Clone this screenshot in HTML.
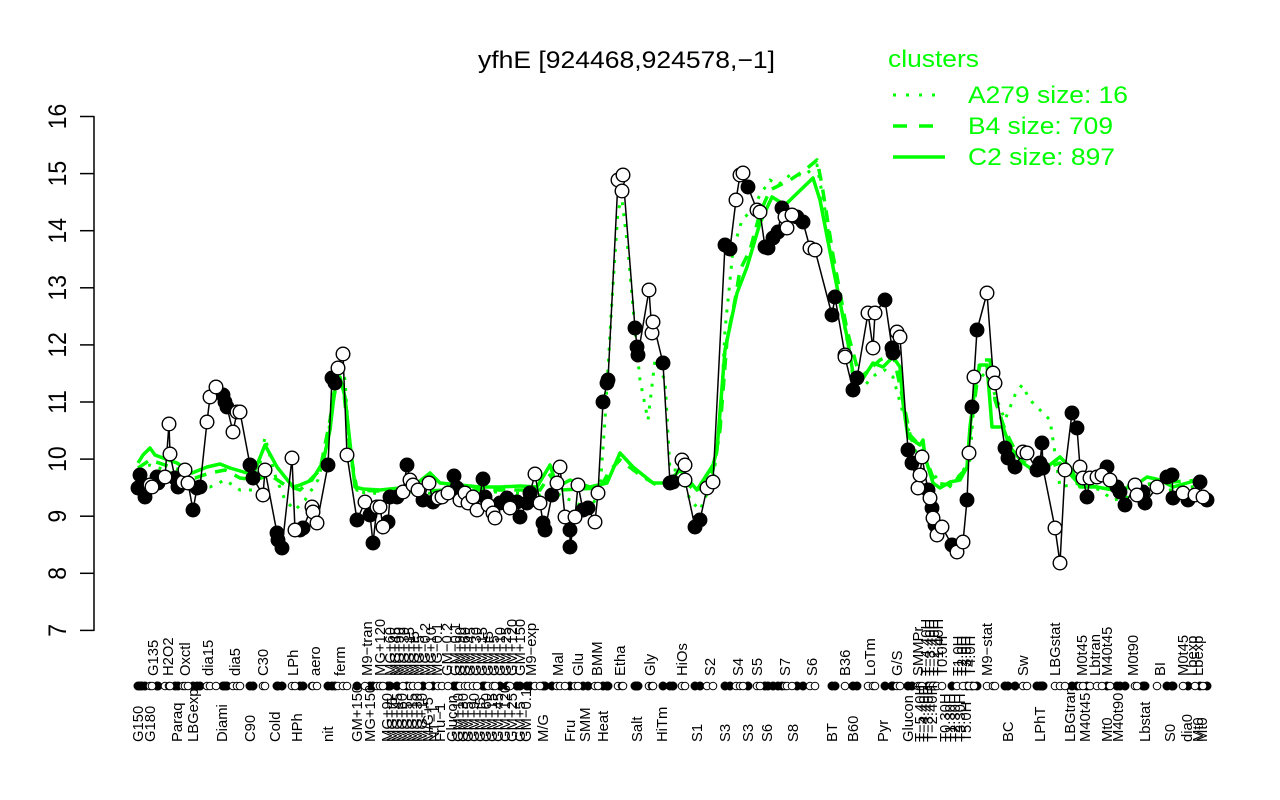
<!DOCTYPE html>
<html>
<head>
<meta charset="utf-8">
<style>
html,body{margin:0;padding:0;background:#fff;}
svg{display:block;}
.lab{font-family:"Liberation Sans",sans-serif;font-size:14.8px;fill:#000;}
.ax{font-family:"Liberation Sans",sans-serif;font-size:23px;fill:#000;}
.lg{font-family:"Liberation Sans",sans-serif;font-size:24px;fill:#00ff00;}
</style>
</head>
<body>
<svg width="1280" height="800" viewBox="0 0 1280 800" xmlns="http://www.w3.org/2000/svg">
<defs>
<marker id="mf" markerUnits="userSpaceOnUse" markerWidth="18" markerHeight="18" refX="9" refY="9" overflow="visible"><circle cx="9" cy="9" r="6.8" fill="#000" stroke="#000" stroke-width="1.3"/></marker>
<marker id="mo" markerUnits="userSpaceOnUse" markerWidth="18" markerHeight="18" refX="9" refY="9" overflow="visible"><circle cx="9" cy="9" r="6.8" fill="#fff" stroke="#000" stroke-width="1.4"/></marker>
<marker id="sf" markerUnits="userSpaceOnUse" markerWidth="10" markerHeight="10" refX="5" refY="5" overflow="visible"><circle cx="5" cy="5" r="4" fill="#000" stroke="#000" stroke-width="1"/></marker>
<marker id="so" markerUnits="userSpaceOnUse" markerWidth="10" markerHeight="10" refX="5" refY="5" overflow="visible"><circle cx="5" cy="5" r="3.8" fill="#fff" stroke="#000" stroke-width="1"/></marker>
</defs>

<!-- title -->
<text x="478" y="68" font-family="Liberation Sans, sans-serif" font-size="24" textLength="297" lengthAdjust="spacingAndGlyphs" fill="#000">yfhE [924468,924578,−1]</text>

<!-- legend -->
<text class="lg" x="888" y="67" textLength="91" lengthAdjust="spacingAndGlyphs">clusters</text>
<line x1="893" y1="95" x2="940" y2="95" stroke="#00ff00" stroke-width="3" stroke-dasharray="3,10"/>
<text class="lg" x="968" y="103" textLength="160" lengthAdjust="spacingAndGlyphs">A279 size: 16</text>
<line x1="893" y1="126" x2="940" y2="126" stroke="#00ff00" stroke-width="3.5" stroke-dasharray="14,12"/>
<text class="lg" x="968" y="134" textLength="145" lengthAdjust="spacingAndGlyphs">B4 size: 709</text>
<line x1="893" y1="157" x2="945" y2="157" stroke="#00ff00" stroke-width="3.5"/>
<text class="lg" x="968" y="165" textLength="147" lengthAdjust="spacingAndGlyphs">C2 size: 897</text>

<!-- y axis -->
<g stroke="#000" stroke-width="1.5" fill="none">
<line x1="94" y1="116" x2="94" y2="631"/>
<line x1="80" y1="116.5" x2="94" y2="116.5"/>
<line x1="80" y1="173.6" x2="94" y2="173.6"/>
<line x1="80" y1="230.7" x2="94" y2="230.7"/>
<line x1="80" y1="287.8" x2="94" y2="287.8"/>
<line x1="80" y1="344.9" x2="94" y2="344.9"/>
<line x1="80" y1="402" x2="94" y2="402"/>
<line x1="80" y1="459.1" x2="94" y2="459.1"/>
<line x1="80" y1="516.2" x2="94" y2="516.2"/>
<line x1="80" y1="573.3" x2="94" y2="573.3"/>
<line x1="80" y1="630.4" x2="94" y2="630.4"/>
</g>
<g class="ax" text-anchor="middle">
<text transform="translate(66,116.5) scale(1.1,1) rotate(-90)">16</text>
<text transform="translate(66,173.6) scale(1.1,1) rotate(-90)">15</text>
<text transform="translate(66,230.7) scale(1.1,1) rotate(-90)">14</text>
<text transform="translate(66,287.8) scale(1.1,1) rotate(-90)">13</text>
<text transform="translate(66,344.9) scale(1.1,1) rotate(-90)">12</text>
<text transform="translate(66,402) scale(1.1,1) rotate(-90)">11</text>
<text transform="translate(66,459.1) scale(1.1,1) rotate(-90)">10</text>
<text transform="translate(66,516.2) scale(1.1,1) rotate(-90)">9</text>
<text transform="translate(66,573.3) scale(1.1,1) rotate(-90)">8</text>
<text transform="translate(66,630.4) scale(1.1,1) rotate(-90)">7</text>
</g>

<!-- green cluster lines -->
<g fill="none" stroke="#00ff00" stroke-linejoin="round">
<polyline stroke-width="3.5" points="138,463 143,455 150,448 155,455 163,458 177,463 192,473 207,467 220,464 230,468 247,473 255,470 265,445 277,467 293,487 300,485 312,480 323,462 330,430 335,387 340,377 345,397 350,443 355,487 363,489 380,490 400,488 415,485 430,473 440,483 460,485 480,487 500,487 520,486 537,487 550,465 557,487 570,480 590,487 607,483 620,453 633,467 653,483 667,483 680,470 697,490 713,465 717,450 725,350 737,293 747,267 760,223 772,197 785,205 813,178 820,200 833,267 847,337 853,373 860,383 873,363 883,367 893,357 900,367 903,403 908,437 920,445 923,440 925,457 933,483 940,488 950,482 960,480 967,467 970,427 975,387 980,365 987,365 992,427 1003,427 1010,447 1023,463 1037,473 1047,467 1060,457 1070,467 1080,487 1097,487 1113,490 1133,487 1147,477 1160,480 1173,487 1187,483 1205,478"/>
<polyline stroke-width="3.5" stroke-dasharray="12,9" points="138,468 150,460 165,465 180,470 195,478 210,473 225,470 240,478 255,480 270,475 285,485 300,490 320,470 330,420 337,380 343,385 350,450 357,490 400,492 450,490 500,490 540,490 550,475 560,490 600,488 610,470 620,460 640,475 660,487 680,478 697,492 713,470 720,430 727,340 735,300 740,270 750,250 760,213 770,190 780,185 790,180 805,170 817,160 822,185 833,255 847,330 860,378 880,360 893,353 903,400 910,435 922,448 935,483 950,485 965,470 972,420 980,360 990,360 995,400 1005,430 1020,460 1040,470 1060,463 1080,485 1110,488 1140,485 1170,482 1205,480"/>
<polyline stroke-width="3" stroke-dasharray="3,8" points="138,470 150,465 165,470 180,478 195,485 210,487 225,480 240,490 255,490 265,437 275,475 285,500 295,510 305,500 318,480 328,440 335,368 340,360 345,380 350,455 357,492 400,495 450,492 500,492 540,495 550,490 570,500 590,510 600,490 605,420 612,300 618,210 622,200 628,250 635,330 640,380 648,420 655,360 665,380 670,470 680,470 690,500 700,510 713,480 720,430 725,330 733,250 742,220 752,210 760,195 770,180 778,185 790,175 805,175 817,165 825,210 835,275 847,340 855,390 865,385 875,375 885,370 893,377 903,413 915,450 930,470 947,490 960,475 970,460 975,385 983,375 993,390 1005,420 1015,395 1022,385 1030,400 1040,410 1050,420 1060,487 1080,483 1100,490 1113,500 1140,495 1170,490 1205,485"/>
</g>

<!-- black data line -->
<polyline fill="none" stroke="#000" stroke-width="1.5" stroke-linejoin="round" points="138,488 140,475 142,487 145,497 150,485 152,487 157,477 158,483 165,477 169,424 170,454 175,478 178,487 183,482 185,470 188,483 193,510 197,488 200,487 207,422 210,397 216,387 223,395 225,402 227,407 233,432 237,412 240,412 250,465 253,478 263,495 265,470 277,533 278,540 282,548 292,458 295,530 300,530 303,528 312,507 313,512 317,523 328,465 332,378 335,383 338,368 343,354 347,455 357,520 365,502 370,515 373,543 377,507 380,507 383,527 388,522 390,497 397,497 403,492 407,465 410,480 413,485 418,490 423,500 429,483 433,502 438,498 442,497 448,493 454,476 457,488 460,500 465,493 468,503 473,497 477,510 483,479 485,497 488,505 493,513 495,518 500,503 507,498 510,508 517,502 520,517 527,503 530,493 535,474 540,503 543,523 545,530 552,495 557,483 560,467 565,517 570,530 570,547 575,517 578,485 583,510 588,508 595,522 598,493 603,402 607,383 608,380 618,180 622,191 623,175 635,328 637,347 638,355 649,290 652,333 653,322 663,363 670,483 673,482 682,460 685,465 685,480 695,527 700,520 707,488 713,482 725,245 730,249 736,200 740,175 743,173 748,187 757,210 760,212 765,247 768,248 773,238 778,232 782,208 785,217 787,228 792,215 797,217 803,222 810,248 815,250 832,315 835,297 845,355 845,357 853,390 857,378 868,313 873,348 875,313 885,300 892,348 893,353 897,332 900,337 908,450 912,463 918,488 920,475 922,457 928,490 930,498 932,508 933,518 935,525 937,535 942,527 952,545 957,552 963,542 967,500 969,453 972,407 974,377 977,330 987,293 993,373 995,383 1005,448 1008,458 1015,467 1023,452 1027,453 1037,470 1040,463 1042,443 1043,468 1055,528 1060,563 1065,470 1072,413 1077,428 1080,467 1083,478 1087,497 1090,478 1097,477 1102,475 1107,467 1110,480 1117,487 1120,492 1125,505 1135,485 1137,495 1143,492 1145,503 1157,487 1167,477 1172,475 1173,498 1183,493 1188,500 1195,495 1200,482 1203,497 1207,500"/>

<!-- filled points -->
<polyline fill="none" stroke="none" marker-start="url(#mf)" marker-mid="url(#mf)" marker-end="url(#mf)" points="138,488 140,475 142,487 145,497 157,477 158,483 175,478 178,487 193,510 197,488 200,487 223,395 225,402 227,407 250,465 253,478 277,533 278,540 282,548 300,530 303,528 328,465 332,378 335,383 357,520 370,515 373,543 388,522 390,497 397,497 407,465 423,500 433,502 454,476 457,488 483,479 485,497 500,503 507,498 517,502 520,517 527,503 530,493 543,523 545,530 552,495 570,530 570,547 583,510 588,508 603,402 607,383 608,380 635,328 637,347 638,355 663,363 670,483 673,482 695,527 700,520 725,245 730,249 748,187 765,247 768,248 773,238 778,232 782,208 797,217 803,222 832,315 835,297 853,390 857,378 885,300 892,348 893,353 908,450 912,463 928,490 932,508 935,525 952,545 967,500 972,407 977,330 1005,448 1008,458 1015,467 1037,470 1040,463 1042,443 1043,468 1072,413 1077,428 1087,497 1107,467 1117,487 1120,492 1125,505 1143,492 1145,503 1167,477 1172,475 1173,498 1188,500 1200,482 1207,500"/>
<!-- open points -->
<polyline fill="none" stroke="none" marker-start="url(#mo)" marker-mid="url(#mo)" marker-end="url(#mo)" points="150,485 152,487 165,477 169,424 170,454 183,482 185,470 188,483 207,422 210,397 216,387 233,432 237,412 240,412 263,495 265,470 292,458 295,530 312,507 313,512 317,523 338,368 343,354 347,455 365,502 377,507 380,507 383,527 403,492 410,480 413,485 418,490 429,483 438,498 442,497 448,493 460,500 465,493 468,503 473,497 477,510 488,505 493,513 495,518 510,508 535,474 540,503 557,483 560,467 565,517 575,517 578,485 595,522 598,493 618,180 622,191 623,175 649,290 652,333 653,322 682,460 685,465 685,480 707,488 713,482 736,200 740,175 743,173 757,210 760,212 785,217 787,228 792,215 810,248 815,250 845,355 845,357 868,313 873,348 875,313 897,332 900,337 918,488 920,475 922,457 930,498 933,518 937,535 942,527 957,552 963,542 969,453 974,377 987,293 993,373 995,383 1023,452 1027,453 1055,528 1060,563 1065,470 1080,467 1083,478 1090,478 1097,477 1102,475 1110,480 1135,485 1137,495 1157,487 1183,493 1195,495 1203,497"/>

<!-- axis row markers -->
<polyline fill="none" stroke="none" marker-start="url(#sf)" marker-mid="url(#sf)" marker-end="url(#sf)" points="138,686 140,686 142,686 145,686 157,686 158,686 175,686 178,686 193,686 197,686 200,686 223,686 225,686 227,686 250,686 253,686 277,686 278,686 282,686 300,686 303,686 328,686 332,686 335,686 357,686 370,686 373,686 388,686 390,686 397,686 407,686 423,686 433,686 454,686 457,686 483,686 485,686 500,686 507,686 517,686 520,686 527,686 530,686 543,686 545,686 552,686 570,686 583,686 588,686 603,686 607,686 608,686 635,686 637,686 638,686 663,686 670,686 673,686 695,686 700,686 725,686 730,686 748,686 765,686 768,686 773,686 778,686 782,686 797,686 803,686 832,686 835,686 853,686 857,686 885,686 892,686 893,686 908,686 912,686 928,686 932,686 935,686 952,686 967,686 972,686 977,686 1005,686 1008,686 1015,686 1037,686 1040,686 1042,686 1043,686 1072,686 1077,686 1087,686 1107,686 1117,686 1120,686 1125,686 1143,686 1145,686 1167,686 1172,686 1173,686 1188,686 1200,686 1207,686"/>
<polyline fill="none" stroke="none" marker-start="url(#so)" marker-mid="url(#so)" marker-end="url(#so)" points="150,686 152,686 165,686 169,686 170,686 183,686 185,686 188,686 207,686 210,686 216,686 233,686 237,686 240,686 263,686 265,686 292,686 295,686 312,686 313,686 317,686 338,686 343,686 347,686 365,686 377,686 380,686 383,686 403,686 410,686 413,686 418,686 429,686 438,686 442,686 448,686 460,686 465,686 468,686 473,686 477,686 488,686 493,686 495,686 510,686 535,686 540,686 557,686 560,686 565,686 575,686 578,686 595,686 598,686 618,686 622,686 623,686 649,686 652,686 653,686 682,686 685,686 707,686 713,686 736,686 740,686 743,686 757,686 760,686 785,686 787,686 792,686 810,686 815,686 845,686 868,686 873,686 875,686 897,686 900,686 918,686 920,686 922,686 930,686 933,686 937,686 942,686 957,686 963,686 969,686 974,686 987,686 993,686 995,686 1023,686 1027,686 1055,686 1060,686 1065,686 1080,686 1083,686 1090,686 1097,686 1102,686 1110,686 1135,686 1137,686 1157,686 1183,686 1195,686 1203,686"/>

<!-- upper x labels -->
<g class="lab">
<text transform="translate(158,676) rotate(-90)">G135</text>
<text transform="translate(173,676) rotate(-90)">H2O2</text>
<text transform="translate(190,676) rotate(-90)">Oxctl</text>
<text transform="translate(213,676) rotate(-90)">dia15</text>
<text transform="translate(240,676) rotate(-90)">dia5</text>
<text transform="translate(268,676) rotate(-90)">C30</text>
<text transform="translate(298,676) rotate(-90)">LPh</text>
<text transform="translate(320,676) rotate(-90)">aero</text>
<text transform="translate(345,676) rotate(-90)">ferm</text>
<text transform="translate(372,676) rotate(-90)">M9−tran</text>
<text transform="translate(385,676) rotate(-90)">MG+120</text>
<text transform="translate(395,676) rotate(-90)">MG+60</text>
<text transform="translate(400,676) rotate(-90)">MG+45</text>
<text transform="translate(404,676) rotate(-90)">MG+90</text>
<text transform="translate(409,676) rotate(-90)">MG+30</text>
<text transform="translate(414,676) rotate(-90)">MG+15</text>
<text transform="translate(419,676) rotate(-90)">MG+t5</text>
<text transform="translate(424,676) rotate(-90)">MG+5</text>
<text transform="translate(430,676) rotate(-90)">MG−0.2</text>
<text transform="translate(436,676) rotate(-90)">MG+10</text>
<text transform="translate(442,676) rotate(-90)">MG−0.1</text>
<text transform="translate(452,676) rotate(-90)">GM−0.2</text>
<text transform="translate(460,676) rotate(-90)">GM−0.1</text>
<text transform="translate(465,676) rotate(-90)">GM+90</text>
<text transform="translate(470,676) rotate(-90)">GM+60</text>
<text transform="translate(475,676) rotate(-90)">GM+45</text>
<text transform="translate(481,676) rotate(-90)">GM+30</text>
<text transform="translate(487,676) rotate(-90)">GM+15</text>
<text transform="translate(493,676) rotate(-90)">GM+t5</text>
<text transform="translate(499,676) rotate(-90)">GM+5</text>
<text transform="translate(505,676) rotate(-90)">GM+10</text>
<text transform="translate(511,676) rotate(-90)">GM+25</text>
<text transform="translate(517,676) rotate(-90)">GM+120</text>
<text transform="translate(525,676) rotate(-90)">GM+150</text>
<text transform="translate(536,676) rotate(-90)">M9−exp</text>
<text transform="translate(563,676) rotate(-90)">Mal</text>
<text transform="translate(583,676) rotate(-90)">Glu</text>
<text transform="translate(602,676) rotate(-90)">BMM</text>
<text transform="translate(625,676) rotate(-90)">Etha</text>
<text transform="translate(655,676) rotate(-90)">Gly</text>
<text transform="translate(687,676) rotate(-90)">HiOs</text>
<text transform="translate(715,676) rotate(-90)">S2</text>
<text transform="translate(743,676) rotate(-90)">S4</text>
<text transform="translate(762,676) rotate(-90)">S5</text>
<text transform="translate(790,676) rotate(-90)">S7</text>
<text transform="translate(817,676) rotate(-90)">S6</text>
<text transform="translate(850,676) rotate(-90)">B36</text>
<text transform="translate(875,676) rotate(-90)">LoTm</text>
<text transform="translate(902,676) rotate(-90)">G/S</text>
<text transform="translate(923,676) rotate(-90)">SMMPr</text>
<text transform="translate(931,676) rotate(-90)">T−4.40H</text>
<text transform="translate(935,676) rotate(-90)">T−3.40H</text>
<text transform="translate(939,676) rotate(-90)">T−2.40H</text>
<text transform="translate(943,676) rotate(-90)">T−1.40H</text>
<text transform="translate(947,676) rotate(-90)">T0.0H</text>
<text transform="translate(963,676) rotate(-90)">T1.0H</text>
<text transform="translate(967,676) rotate(-90)">T2.0H</text>
<text transform="translate(971,676) rotate(-90)">T3.0H</text>
<text transform="translate(975,676) rotate(-90)">T4.0H</text>
<text transform="translate(992,676) rotate(-90)">M9−stat</text>
<text transform="translate(1028,676) rotate(-90)">Sw</text>
<text transform="translate(1060,676) rotate(-90)">LBGstat</text>
<text transform="translate(1087,676) rotate(-90)">M0t45</text>
<text transform="translate(1100,676) rotate(-90)">Lbtran</text>
<text transform="translate(1112,676) rotate(-90)">M40t45</text>
<text transform="translate(1138,676) rotate(-90)">M0t90</text>
<text transform="translate(1165,676) rotate(-90)">BI</text>
<text transform="translate(1188,676) rotate(-90)">M0t45</text>
<text transform="translate(1197,676) rotate(-90)">Lbexp</text>
<text transform="translate(1203,676) rotate(-90)">Lbexp</text>
</g>

<!-- lower x labels -->
<g class="lab">
<text transform="translate(143,742) rotate(-90)">G150</text>
<text transform="translate(155,742) rotate(-90)">G180</text>
<text transform="translate(182,742) rotate(-90)">Paraq</text>
<text transform="translate(198,742) rotate(-90)">LBGexp</text>
<text transform="translate(227,742) rotate(-90)">Diami</text>
<text transform="translate(255,742) rotate(-90)">C90</text>
<text transform="translate(280,742) rotate(-90)">Cold</text>
<text transform="translate(302,742) rotate(-90)">HPh</text>
<text transform="translate(333,742) rotate(-90)">nit</text>
<text transform="translate(362,742) rotate(-90)">GM+150</text>
<text transform="translate(375,742) rotate(-90)">MG+150</text>
<text transform="translate(392,742) rotate(-90)">MG+90</text>
<text transform="translate(397,742) rotate(-90)">MG+t5</text>
<text transform="translate(402,742) rotate(-90)">MG+45</text>
<text transform="translate(407,742) rotate(-90)">MG+60</text>
<text transform="translate(412,742) rotate(-90)">MG+5</text>
<text transform="translate(417,742) rotate(-90)">MG+15</text>
<text transform="translate(422,742) rotate(-90)">MG+30</text>
<text transform="translate(427,742) rotate(-90)">MG+10</text>
<text transform="translate(433,742) rotate(-90)">M/G+5</text>
<text transform="translate(439,742) rotate(-90)">NT−1</text>
<text transform="translate(445,742) rotate(-90)">Fru−1</text>
<text transform="translate(457,742) rotate(-90)">Glucon</text>
<text transform="translate(463,742) rotate(-90)">GM+10</text>
<text transform="translate(468,742) rotate(-90)">GM+30</text>
<text transform="translate(473,742) rotate(-90)">GM+5</text>
<text transform="translate(479,742) rotate(-90)">GM+90</text>
<text transform="translate(485,742) rotate(-90)">GM+t5</text>
<text transform="translate(491,742) rotate(-90)">GM+60</text>
<text transform="translate(497,742) rotate(-90)">GM+15</text>
<text transform="translate(503,742) rotate(-90)">GM+45</text>
<text transform="translate(510,742) rotate(-90)">GM+120</text>
<text transform="translate(517,742) rotate(-90)">GM+25</text>
<text transform="translate(525,742) rotate(-90)">GM+5</text>
<text transform="translate(531,742) rotate(-90)">GM−0.1</text>
<text transform="translate(548,742) rotate(-90)">M/G</text>
<text transform="translate(575,742) rotate(-90)">Fru</text>
<text transform="translate(590,742) rotate(-90)">SMM</text>
<text transform="translate(608,742) rotate(-90)">Heat</text>
<text transform="translate(642,742) rotate(-90)">Salt</text>
<text transform="translate(667,742) rotate(-90)">HiTm</text>
<text transform="translate(702,742) rotate(-90)">S1</text>
<text transform="translate(730,742) rotate(-90)">S3</text>
<text transform="translate(753,742) rotate(-90)">S3</text>
<text transform="translate(772,742) rotate(-90)">S6</text>
<text transform="translate(798,742) rotate(-90)">S8</text>
<text transform="translate(837,742) rotate(-90)">BT</text>
<text transform="translate(858,742) rotate(-90)">B60</text>
<text transform="translate(888,742) rotate(-90)">Pyr</text>
<text transform="translate(913,742) rotate(-90)">Glucon</text>
<text transform="translate(925,742) rotate(-90)">T−5.40H</text>
<text transform="translate(929,742) rotate(-90)">T−4.40H</text>
<text transform="translate(933,742) rotate(-90)">T−3.40H</text>
<text transform="translate(937,742) rotate(-90)">T−2.40H</text>
<text transform="translate(950,742) rotate(-90)">T0.30H</text>
<text transform="translate(955,742) rotate(-90)">T1.30H</text>
<text transform="translate(960,742) rotate(-90)">T2.30H</text>
<text transform="translate(965,742) rotate(-90)">T3.30H</text>
<text transform="translate(971,742) rotate(-90)">T5.0H</text>
<text transform="translate(1013,742) rotate(-90)">BC</text>
<text transform="translate(1045,742) rotate(-90)">LPhT</text>
<text transform="translate(1075,742) rotate(-90)">LBGtran</text>
<text transform="translate(1090,742) rotate(-90)">M40t45</text>
<text transform="translate(1112,742) rotate(-90)">Mt0</text>
<text transform="translate(1123,742) rotate(-90)">M40t90</text>
<text transform="translate(1150,742) rotate(-90)">Lbstat</text>
<text transform="translate(1175,742) rotate(-90)">S0</text>
<text transform="translate(1192,742) rotate(-90)">dia0</text>
<text transform="translate(1203,742) rotate(-90)">Mt0</text>
<text transform="translate(1207,742) rotate(-90)">Mt0</text>
</g>
</svg>
</body>
</html>
